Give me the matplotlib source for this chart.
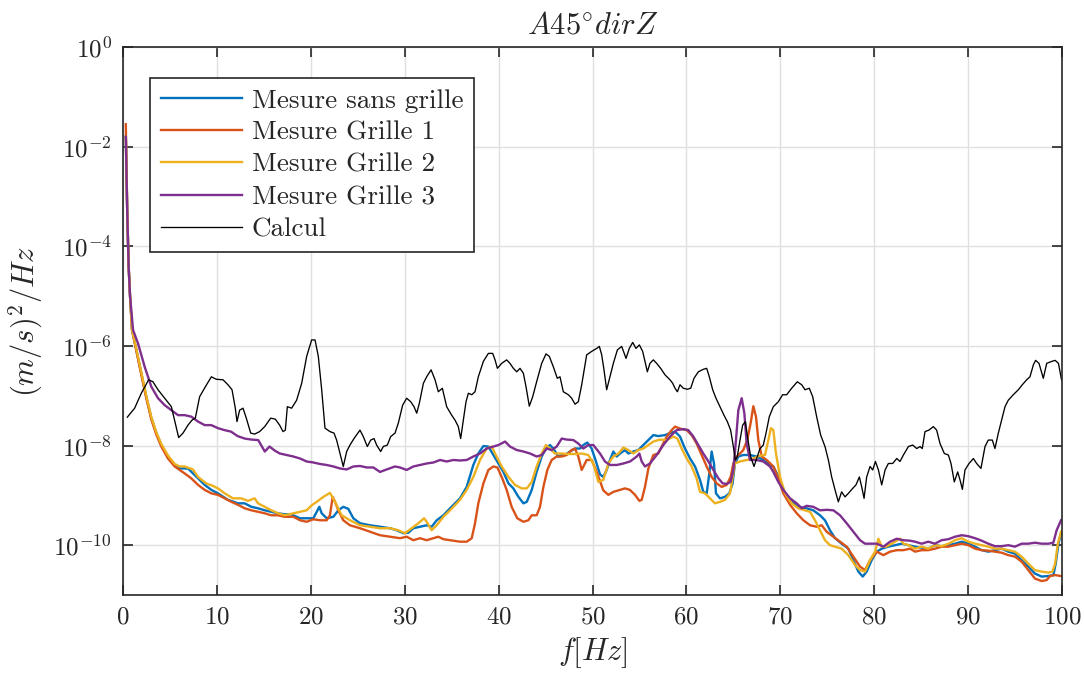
import numpy as np
import matplotlib
matplotlib.use("Agg")
import matplotlib.pyplot as plt

# (frequency [Hz], log10 PSD) pairs
blue = [(0.3, -1.8), (0.45, -3.3), (0.6, -4.4), (0.75, -5.0), (0.96, -5.68), (1.42, -6.08), (1.95, -6.55),
        (2.48, -7.02), (3.02, -7.45), (3.55, -7.75), (4.08, -7.99), (4.79, -8.22), (5.5, -8.39), (6.03, -8.46),
        (6.92, -8.46), (7.99, -8.66), (8.7, -8.79), (9.41, -8.89), (10.12, -8.96), (11.18, -9.09), (12.25, -9.16),
        (12.96, -9.16), (13.67, -9.23), (14.38, -9.26), (15.09, -9.30), (15.8, -9.33), (16.51, -9.36),
        (17.22, -9.38), (17.9, -9.38), (18.85, -9.46), (19.56, -9.46), (20.27, -9.46), (20.63, -9.33),
        (20.91, -9.23), (21.16, -9.36), (21.69, -9.46), (22.4, -9.43), (22.93, -9.30), (23.46, -9.23),
        (23.99, -9.27), (24.53, -9.46), (25.24, -9.56), (26.3, -9.60), (27.37, -9.63), (28.43, -9.66),
        (29.15, -9.70), (29.86, -9.76), (30.39, -9.75), (30.92, -9.66), (31.63, -9.63), (32.34, -9.60),
        (32.87, -9.63), (33.41, -9.50), (34.12, -9.40), (34.83, -9.26), (35.89, -9.06), (36.6, -8.83),
        (37.31, -8.39), (37.84, -8.16), (38.38, -8.01), (38.91, -8.02), (39.44, -8.19), (39.98, -8.36),
        (40.51, -8.53), (41.05, -8.76), (41.57, -8.86), (42.11, -9.03), (42.64, -9.16), (43.0, -9.13),
        (43.53, -8.89), (44.05, -8.53), (44.59, -8.22), (45.05, -8.06), (45.47, -7.99), (45.83, -8.06),
        (46.36, -8.22), (46.72, -8.19), (47.07, -8.19), (47.61, -8.12), (48.14, -8.06), (48.67, -8.06),
        (49.02, -7.99), (49.45, -7.94), (49.91, -8.06), (50.37, -8.32), (50.8, -8.58), (51.15, -8.63),
        (51.51, -8.49), (51.86, -8.29), (52.22, -8.12), (52.58, -8.22), (52.93, -8.16), (53.46, -8.09),
        (53.82, -8.16), (54.35, -8.12), (54.88, -8.09), (55.41, -7.99), (55.95, -7.89), (56.48, -7.79),
        (57.01, -7.81), (57.72, -7.79), (58.25, -7.75), (58.79, -7.72), (59.32, -7.82), (59.85, -8.06),
        (60.39, -8.26), (60.92, -8.42), (61.45, -8.69), (61.8, -8.93), (62.16, -8.96), (62.44, -8.56),
        (62.69, -8.12), (62.94, -8.36), (63.15, -8.96), (63.58, -9.06), (64.11, -9.03), (64.57, -8.96),
        (64.92, -8.76), (65.17, -8.36), (65.53, -8.22), (66.06, -8.19), (66.77, -8.19), (67.48, -8.22),
        (68.19, -8.29), (68.9, -8.39), (69.26, -8.42), (69.97, -8.69), (70.5, -8.96), (71.21, -9.13),
        (71.91, -9.23), (72.8, -9.26), (73.51, -9.30), (74.23, -9.40), (74.76, -9.50), (75.29, -9.70),
        (75.83, -9.86), (76.53, -9.97), (77.25, -10.07), (77.78, -10.30), (78.31, -10.53), (78.78, -10.63),
        (79.2, -10.53), (79.73, -10.30), (80.27, -10.13), (80.8, -10.07), (81.51, -10.03), (82.22, -10.0),
        (82.93, -9.97), (83.64, -10.0), (84.35, -10.03), (85.05, -10.05), (85.76, -10.07), (86.47, -10.0),
        (87.18, -10.02), (87.9, -10.0), (88.61, -9.97), (89.32, -9.93), (90.03, -9.97), (90.74, -10.03),
        (91.45, -10.10), (92.15, -10.13), (92.86, -10.10), (93.57, -10.07), (94.28, -10.13), (94.99, -10.17),
        (95.7, -10.30), (96.41, -10.43), (97.12, -10.57), (97.83, -10.63), (98.55, -10.62), (99.08, -10.60),
        (99.33, -10.37), (99.62, -9.97), (99.9, -9.76)]

orange = [(0.3, -1.55), (0.45, -3.3), (0.6, -4.4), (0.75, -5.0), (0.96, -5.68), (1.42, -6.10), (1.95, -6.58),
          (2.48, -7.05), (3.02, -7.48), (3.55, -7.78), (4.08, -8.02), (4.79, -8.26), (5.5, -8.42), (6.03, -8.49),
          (6.57, -8.56), (7.28, -8.66), (7.99, -8.79), (8.7, -8.89), (9.41, -8.96), (10.12, -8.99), (10.83, -9.06),
          (11.54, -9.13), (12.25, -9.19), (12.96, -9.26), (13.67, -9.30), (14.38, -9.33), (15.09, -9.36),
          (15.8, -9.40), (16.51, -9.40), (17.22, -9.43), (18.14, -9.43), (18.85, -9.50), (19.56, -9.53),
          (20.27, -9.48), (20.98, -9.50), (21.69, -9.50), (22.04, -9.40), (22.33, -9.03), (22.58, -9.13),
          (22.93, -9.30), (23.46, -9.50), (24.17, -9.60), (25.24, -9.66), (26.3, -9.73), (27.37, -9.80),
          (28.43, -9.83), (29.5, -9.86), (30.21, -9.83), (30.92, -9.90), (31.63, -9.86), (32.34, -9.90),
          (33.06, -9.86), (33.58, -9.83), (34.12, -9.88), (34.83, -9.90), (35.89, -9.93), (36.6, -9.93),
          (37.14, -9.86), (37.49, -9.56), (37.84, -9.16), (38.38, -8.76), (38.91, -8.49), (39.44, -8.42),
          (39.87, -8.44), (40.33, -8.63), (40.86, -8.89), (41.39, -9.23), (41.99, -9.46), (42.64, -9.53),
          (43.17, -9.50), (43.53, -9.40), (44.05, -9.40), (44.41, -9.23), (44.77, -8.83), (45.19, -8.49),
          (45.65, -8.29), (46.19, -8.22), (46.72, -8.22), (47.25, -8.19), (47.78, -8.09), (48.14, -8.06),
          (48.49, -8.22), (48.85, -8.49), (49.38, -8.29), (49.91, -8.29), (50.45, -8.53), (51.15, -8.90),
          (51.69, -8.99), (52.22, -8.93), (52.93, -8.89), (53.46, -8.86), (53.99, -8.89), (54.53, -8.99),
          (54.99, -9.11), (55.24, -9.09), (55.59, -8.83), (55.95, -8.46), (56.48, -8.19), (57.01, -8.16),
          (57.37, -8.02), (57.9, -7.82), (58.43, -7.69), (58.79, -7.62), (59.32, -7.66), (60.03, -7.69),
          (60.56, -7.79), (61.09, -7.96), (61.63, -8.19), (62.16, -8.42), (62.69, -8.63), (63.23, -8.76),
          (63.76, -8.83), (64.29, -8.79), (64.71, -8.63), (65.0, -8.36), (65.36, -8.22), (65.71, -8.16),
          (66.06, -8.09), (66.48, -7.89), (66.84, -7.55), (67.13, -7.21), (67.41, -7.42), (67.66, -7.89),
          (68.02, -8.22), (68.55, -8.29), (69.26, -8.42), (69.79, -8.66), (70.32, -8.96), (71.04, -9.19),
          (71.75, -9.36), (72.46, -9.50), (73.16, -9.60), (73.87, -9.63), (74.41, -9.60), (74.94, -9.73),
          (75.65, -9.83), (76.36, -9.93), (77.07, -10.03), (77.78, -10.23), (78.49, -10.43), (79.02, -10.50),
          (79.56, -10.30), (80.27, -10.13), (80.98, -10.20), (81.69, -10.13), (82.4, -10.10), (83.11, -10.10),
          (83.82, -10.07), (84.35, -10.13), (85.05, -10.10), (85.76, -10.10), (86.47, -10.07), (87.18, -10.03),
          (87.9, -10.03), (88.61, -10.0), (89.32, -9.97), (90.03, -10.0), (90.74, -10.07), (91.45, -10.10),
          (92.15, -10.11), (92.86, -10.13), (93.57, -10.15), (94.28, -10.20), (94.99, -10.23), (95.7, -10.33),
          (96.41, -10.50), (97.12, -10.67), (97.83, -10.72), (98.37, -10.70), (98.73, -10.62), (99.27, -10.60),
          (99.9, -10.62)]

yellow = [(0.3, -1.8), (0.45, -3.3), (0.6, -4.4), (0.75, -5.0), (0.96, -5.68), (1.42, -6.06), (1.95, -6.53),
          (2.48, -7.0), (3.02, -7.43), (3.55, -7.73), (4.08, -7.97), (4.79, -8.2), (5.5, -8.37), (6.03, -8.42),
          (6.57, -8.42), (7.45, -8.48), (7.99, -8.63), (8.87, -8.76), (9.58, -8.81), (10.12, -8.86), (10.83, -8.96),
          (11.71, -9.06), (12.6, -9.06), (13.31, -9.11), (14.02, -9.06), (14.38, -9.16), (15.09, -9.23),
          (15.8, -9.30), (16.51, -9.36), (17.22, -9.40), (18.14, -9.36), (18.85, -9.33), (19.56, -9.30),
          (20.09, -9.20), (20.63, -9.13), (21.34, -9.03), (22.04, -8.95), (22.58, -9.13), (23.29, -9.40),
          (24.17, -9.50), (25.24, -9.60), (26.3, -9.63), (27.37, -9.66), (28.43, -9.66), (29.32, -9.70),
          (30.03, -9.76), (30.74, -9.66), (31.45, -9.56), (32.06, -9.46), (32.34, -9.53), (32.87, -9.70),
          (33.41, -9.60), (34.12, -9.43), (34.83, -9.30), (35.89, -9.09), (36.6, -8.89), (37.31, -8.63),
          (38.02, -8.29), (38.73, -8.06), (39.27, -8.02), (39.62, -8.16), (40.33, -8.42), (41.05, -8.63),
          (41.75, -8.79), (42.46, -8.86), (43.0, -8.86), (43.53, -8.73), (44.05, -8.42), (44.59, -8.16),
          (45.05, -7.99), (45.47, -8.06), (46.0, -8.16), (46.72, -8.16), (47.43, -8.17), (48.14, -8.17),
          (48.85, -8.16), (49.55, -8.19), (50.09, -8.36), (50.62, -8.73), (51.15, -8.69), (51.69, -8.36),
          (52.22, -8.22), (52.76, -8.16), (53.29, -8.04), (53.82, -8.09), (54.35, -8.16), (54.88, -8.09),
          (55.41, -8.06), (55.95, -7.99), (56.48, -7.92), (57.19, -7.88), (57.9, -7.89), (58.61, -7.82),
          (59.04, -7.86), (59.5, -8.06), (60.03, -8.26), (60.56, -8.42), (61.09, -8.66), (61.45, -8.93),
          (61.98, -8.96), (62.51, -9.06), (63.04, -9.16), (63.58, -9.13), (64.11, -9.09), (64.64, -8.96),
          (65.17, -8.36), (65.71, -8.32), (66.42, -8.29), (67.13, -8.26), (67.84, -8.20), (68.37, -8.19),
          (68.73, -7.89), (69.0, -7.65), (69.26, -7.69), (69.54, -8.16), (69.97, -8.63), (70.5, -8.96),
          (71.21, -9.16), (71.91, -9.26), (72.63, -9.30), (73.16, -9.33), (73.69, -9.50), (74.23, -9.70),
          (74.76, -9.90), (75.29, -10.0), (75.83, -10.03), (76.53, -10.07), (77.25, -10.20), (77.96, -10.40),
          (78.49, -10.50), (79.02, -10.53), (79.56, -10.30), (80.09, -10.13), (80.45, -9.87), (80.8, -10.03),
          (81.27, -10.03), (81.87, -9.97), (82.4, -9.91), (82.75, -9.87), (83.11, -9.97), (83.64, -10.0),
          (84.35, -10.07), (85.05, -10.03), (85.76, -10.07), (86.47, -10.0), (87.18, -10.02), (87.9, -9.97),
          (88.61, -9.90), (89.32, -9.86), (90.03, -9.93), (90.74, -9.97), (91.45, -10.0), (92.15, -10.03),
          (92.86, -10.07), (93.57, -10.07), (94.28, -10.10), (94.99, -10.13), (95.7, -10.23), (96.41, -10.37),
          (97.12, -10.50), (97.83, -10.53), (98.55, -10.55), (98.98, -10.53), (99.27, -10.37), (99.55, -9.97),
          (99.9, -9.73)]

purple = [(0.3, -1.8), (0.45, -3.3), (0.6, -4.4), (0.75, -5.0), (1.07, -5.68), (1.6, -5.95), (2.31, -6.42),
          (3.02, -6.82), (3.73, -7.05), (4.44, -7.19), (5.15, -7.29), (5.86, -7.39), (6.57, -7.39), (7.28, -7.42),
          (8.0, -7.52), (8.7, -7.59), (9.4, -7.59), (10.1, -7.65), (10.8, -7.69), (11.5, -7.72), (12.2, -7.81),
          (12.96, -7.86), (13.67, -7.88), (14.4, -7.89), (14.7, -7.99), (15.1, -8.12), (15.6, -8.02),
          (16.15, -8.10), (16.7, -8.16), (17.43, -8.19), (18.14, -8.22), (18.85, -8.26), (19.56, -8.32),
          (20.27, -8.34), (20.98, -8.37), (21.69, -8.39), (22.4, -8.42), (23.11, -8.46), (23.82, -8.48),
          (24.53, -8.42), (25.24, -8.41), (25.95, -8.44), (26.66, -8.44), (27.37, -8.53), (28.08, -8.48),
          (28.97, -8.42), (29.5, -8.44), (30.21, -8.49), (30.92, -8.42), (31.63, -8.39), (32.34, -8.36),
          (33.06, -8.34), (33.77, -8.29), (34.47, -8.32), (35.18, -8.29), (35.89, -8.30), (36.6, -8.29),
          (37.31, -8.22), (38.02, -8.16), (38.73, -8.06), (39.44, -8.02), (39.98, -7.99), (40.69, -7.92),
          (41.21, -8.02), (41.93, -8.09), (42.64, -8.12), (43.35, -8.16), (44.05, -8.22), (44.59, -8.19),
          (45.12, -8.06), (45.65, -8.09), (46.19, -8.02), (46.72, -7.86), (47.25, -7.88), (47.96, -7.89),
          (48.49, -7.96), (49.02, -8.06), (49.55, -7.99), (50.09, -7.99), (50.8, -8.16), (51.33, -8.32),
          (51.86, -8.39), (52.58, -8.39), (53.29, -8.36), (54.0, -8.32), (54.71, -8.22), (54.99, -8.16),
          (55.24, -8.32), (55.59, -8.42), (56.12, -8.36), (56.83, -8.19), (57.54, -7.99), (58.25, -7.82),
          (58.96, -7.69), (59.67, -7.67), (60.2, -7.69), (60.74, -7.82), (61.27, -7.99), (61.8, -8.16),
          (62.34, -8.32), (62.87, -8.49), (63.41, -8.66), (63.87, -8.76), (64.29, -8.77), (64.71, -8.73),
          (65.0, -8.49), (65.28, -7.89), (65.53, -7.29), (65.89, -7.05), (66.17, -7.35), (66.42, -7.96),
          (66.77, -8.29), (67.48, -8.29), (68.19, -8.32), (68.9, -8.42), (69.26, -8.53), (69.79, -8.73),
          (70.32, -8.89), (71.04, -9.06), (71.75, -9.16), (72.28, -9.26), (72.8, -9.21), (73.51, -9.23),
          (74.23, -9.30), (74.94, -9.29), (75.65, -9.30), (76.36, -9.40), (77.07, -9.56), (77.78, -9.73),
          (78.49, -9.90), (79.02, -9.97), (79.56, -9.97), (80.27, -9.97), (80.98, -10.03), (81.69, -9.93),
          (82.4, -9.87), (83.11, -9.90), (83.82, -9.91), (84.35, -9.93), (85.05, -9.97), (85.76, -9.93),
          (86.47, -9.97), (87.18, -9.90), (87.9, -9.88), (88.61, -9.83), (89.32, -9.80), (90.03, -9.82),
          (90.74, -9.86), (91.45, -9.91), (92.15, -9.97), (92.86, -10.02), (93.57, -10.02), (94.28, -10.0),
          (94.99, -10.03), (95.7, -9.97), (96.41, -9.97), (97.12, -9.95), (97.83, -9.97), (98.55, -9.97),
          (99.08, -9.95), (99.43, -9.70), (99.9, -9.50)]

calcul = [(0.46, -7.43), (1.24, -7.25), (1.95, -6.95), (2.73, -6.68), (3.19, -6.72), (3.73, -6.88), (4.44, -7.05),
          (5.15, -7.22), (5.57, -7.55), (5.93, -7.84), (6.39, -7.75), (6.92, -7.59), (7.35, -7.49), (7.7, -7.45),
          (8.16, -7.02), (8.77, -6.82), (9.41, -6.62), (9.94, -6.67), (10.65, -6.68), (11.18, -6.78),
          (11.61, -6.88), (11.96, -7.25), (12.14, -7.52), (12.42, -7.29), (12.78, -7.25), (13.13, -7.45),
          (13.6, -7.75), (14.02, -7.77), (14.55, -7.72), (15.09, -7.62), (15.73, -7.45), (16.22, -7.47),
          (16.68, -7.59), (17.04, -7.72), (17.29, -7.69), (17.5, -7.22), (17.96, -7.25), (18.49, -7.09),
          (19.03, -6.75), (19.56, -6.21), (20.09, -5.88), (20.45, -5.88), (20.8, -6.21), (21.16, -6.88),
          (21.51, -7.65), (22.04, -7.72), (22.47, -7.75), (22.75, -7.89), (23.11, -8.16), (23.46, -8.42),
          (23.82, -8.12), (24.17, -7.99), (24.6, -7.86), (25.24, -7.69), (25.59, -7.82), (26.02, -8.02),
          (26.38, -7.89), (26.73, -7.86), (27.01, -7.99), (27.44, -8.12), (27.72, -8.02), (28.15, -7.99),
          (28.51, -7.82), (28.97, -7.75), (29.32, -7.55), (29.78, -7.19), (30.21, -7.05), (30.64, -7.12),
          (30.99, -7.22), (31.28, -7.35), (31.56, -7.15), (31.99, -6.75), (32.34, -6.62), (32.81, -6.48),
          (33.23, -6.68), (33.58, -6.92), (34.01, -6.85), (34.47, -7.22), (35.0, -7.39), (35.36, -7.49),
          (35.71, -7.62), (35.96, -7.86), (36.25, -7.49), (36.53, -7.12), (36.78, -6.95), (37.14, -6.98),
          (37.49, -6.92), (37.84, -6.62), (38.38, -6.31), (38.91, -6.15), (39.37, -6.15), (39.62, -6.28),
          (39.87, -6.45), (40.33, -6.35), (40.86, -6.28), (41.21, -6.35), (41.57, -6.45), (41.93, -6.52),
          (42.28, -6.45), (42.64, -6.55), (42.92, -6.82), (43.27, -7.21), (43.63, -7.02), (44.05, -6.72),
          (44.59, -6.35), (45.05, -6.16), (45.4, -6.21), (45.83, -6.42), (46.25, -6.65), (46.54, -6.62),
          (46.89, -6.92), (47.43, -6.98), (47.78, -7.05), (48.14, -7.17), (48.49, -7.12), (48.85, -6.78),
          (49.38, -6.18), (49.91, -6.11), (50.45, -6.05), (50.73, -6.01), (50.98, -6.18), (51.2, -6.45),
          (51.51, -6.88), (51.86, -6.62), (52.22, -6.35), (52.65, -6.08), (53.11, -6.01), (53.57, -6.25),
          (53.92, -6.05), (54.28, -5.93), (54.63, -6.05), (54.99, -5.98), (55.34, -6.11), (55.59, -6.31),
          (55.84, -6.52), (56.12, -6.35), (56.48, -6.28), (56.83, -6.35), (57.26, -6.45), (57.72, -6.58),
          (58.25, -6.68), (58.54, -6.75), (58.79, -6.85), (59.04, -6.92), (59.32, -6.78), (59.67, -6.85),
          (60.1, -6.87), (60.46, -6.85), (60.81, -6.65), (61.27, -6.52), (61.8, -6.47), (62.16, -6.45),
          (62.44, -6.62), (62.8, -6.88), (63.15, -7.05), (63.58, -7.22), (64.0, -7.39), (64.36, -7.52),
          (64.71, -7.69), (65.0, -8.02), (65.21, -8.29), (65.42, -8.22), (65.71, -7.89), (65.99, -7.59),
          (66.28, -7.52), (66.56, -7.89), (66.84, -8.22), (67.2, -8.42), (67.48, -8.26), (67.84, -8.06),
          (68.19, -7.99), (68.48, -7.75), (68.83, -7.42), (69.26, -7.22), (69.79, -7.12), (70.25, -6.98),
          (70.68, -6.98), (71.21, -6.85), (71.81, -6.72), (72.28, -6.78), (72.63, -6.88), (73.09, -6.85),
          (73.45, -7.02), (73.87, -7.42), (74.3, -7.79), (74.76, -8.02), (75.12, -8.29), (75.47, -8.63),
          (75.83, -8.89), (76.18, -9.13), (76.53, -8.93), (76.89, -9.03), (77.25, -8.96), (77.71, -8.86),
          (78.06, -8.79), (78.42, -8.63), (78.67, -8.83), (78.92, -9.06), (79.2, -8.63), (79.56, -8.42),
          (79.84, -8.49), (80.13, -8.32), (80.45, -8.49), (80.8, -8.79), (81.16, -8.49), (81.51, -8.36),
          (81.97, -8.36), (82.4, -8.26), (82.75, -8.32), (83.11, -8.19), (83.64, -8.02), (84.1, -7.99),
          (84.53, -8.06), (84.88, -8.02), (85.12, -8.06), (85.41, -7.72), (85.83, -7.69), (86.3, -7.62),
          (86.65, -7.69), (87.01, -7.96), (87.47, -8.16), (87.9, -8.19), (88.18, -8.36), (88.53, -8.73),
          (88.89, -8.53), (89.14, -8.69), (89.39, -8.88), (89.67, -8.49), (90.1, -8.36), (90.56, -8.26),
          (90.91, -8.36), (91.37, -8.46), (91.8, -8.02), (92.15, -7.89), (92.58, -7.89), (92.86, -8.06),
          (93.22, -7.75), (93.57, -7.49), (93.93, -7.22), (94.28, -7.09), (94.81, -6.98), (95.35, -6.88),
          (95.77, -6.78), (96.24, -6.68), (96.59, -6.62), (96.95, -6.38), (97.19, -6.29), (97.55, -6.35),
          (98.01, -6.65), (98.37, -6.35), (98.92, -6.31), (99.27, -6.29), (99.62, -6.35), (99.95, -6.68)]

labels = ['Mesure sans grille', 'Mesure Grille 1', 'Mesure Grille 2', 'Mesure Grille 3', 'Calcul']
colors = ['#0072BD', '#D95319', '#EDB120', '#7E2F8E', 'black']
widths = [1.7, 1.7, 1.7, 1.7, 0.95]
series = [blue, orange, yellow, purple, calcul]

plt.rcParams['font.family'] = 'serif'
plt.rcParams['font.serif'] = ['cmr10', 'DejaVu Serif']
plt.rcParams['mathtext.fontset'] = 'cm'
plt.rcParams['axes.formatter.use_mathtext'] = True
plt.rcParams['text.color'] = '#262626'

fig = plt.figure(figsize=(10.84, 6.75), dpi=100)
ax = fig.add_axes([123 / 1084, 80 / 675, 939 / 1084, 548 / 675])

for pts, lab, col, lw in zip(series, labels, colors, widths):
    d = np.array(pts)
    ax.plot(d[:, 0], 10 ** d[:, 1], color=col, lw=lw, label=lab)

ax.set_yscale('log')
ax.set_xlim(0, 100)
ax.set_ylim(1e-11, 1e0)
ax.set_xticks(np.arange(0, 101, 10))
ax.set_yticks([1e0, 1e-2, 1e-4, 1e-6, 1e-8, 1e-10])
ax.yaxis.set_minor_locator(matplotlib.ticker.NullLocator())
ax.grid(True, color='#e0e0e0', lw=1.0)
ax.set_axisbelow(True)
ax.tick_params(direction='in', length=7, width=1.2, color='#262626', labelcolor='#262626',
               labelsize=18, top=True, right=True, pad=8)
for s in ax.spines.values():
    s.set_color('#262626')
    s.set_linewidth(1.2)

ax.set_title(r'$A45^{\circ}dirZ$', fontsize=22, pad=10, color='#262626')
ax.set_xlabel(r'$f[Hz]$', fontsize=22, labelpad=5, color='#262626')
ax.set_ylabel(r'$(m/s)^2/Hz$', fontsize=22, labelpad=6, color='#262626')

leg = ax.legend(loc='upper left', bbox_to_anchor=(0.0288, 0.9434), borderaxespad=0,
                fontsize=19.5, fancybox=False, framealpha=1, edgecolor='#262626',
                handlelength=3.0, handletextpad=0.35, labelspacing=0.3, borderpad=0.4)
leg.get_frame().set_linewidth(1.2)

fig.savefig('out.png', dpi=100)
